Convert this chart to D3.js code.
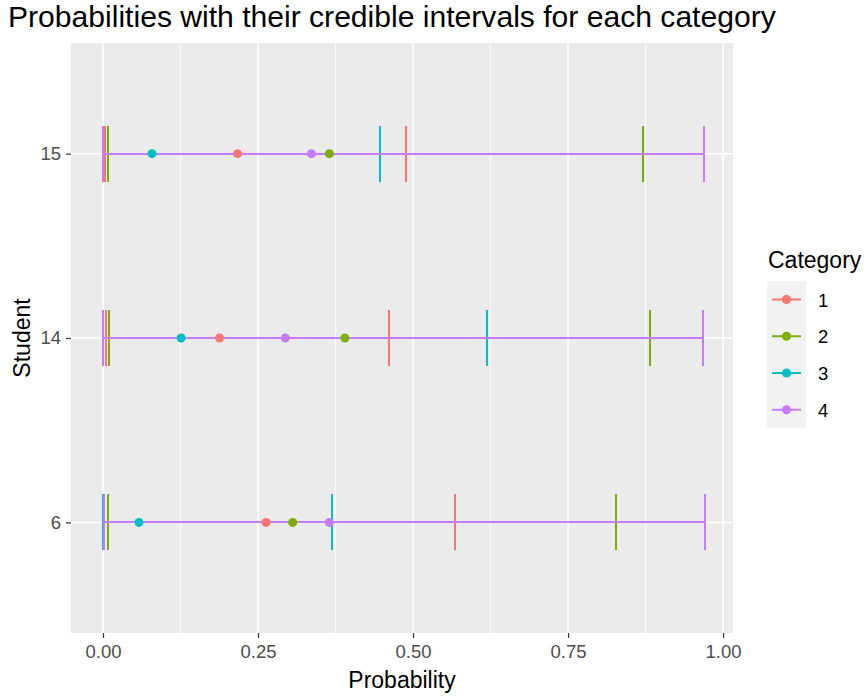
<!DOCTYPE html>
<html>
<head>
<meta charset="utf-8">
<script src="https://cdn.jsdelivr.net/npm/d3@7"></script>
<style>
  body { margin: 0; background: #fff; }
  svg { display: block; font-family: "Liberation Sans", Arial, sans-serif; }
</style>
</head>
<body>
<svg id="chart" width="864" height="697"></svg>
<script>
const students = ["15", "14", "6"];
const categories = ["1", "2", "3", "4"];
const categoryColors = ["#F8766D", "#7CAE00", "#00BFC4", "#C77CFF"];

// one row per student, one value per category
const probability = [
  [0.217, 0.365, 0.079, 0.336],
  [0.188, 0.390, 0.126, 0.294],
  [0.263, 0.306, 0.058, 0.365]
];
const lower = [
  [0.004, 0.008, 0.000, 0.000],
  [0.005, 0.010, 0.000, 0.000],
  [0.000, 0.008, 0.000, 0.002]
];
const upper = [
  [0.488, 0.871, 0.447, 0.969],
  [0.462, 0.882, 0.620, 0.968],
  [0.568, 0.827, 0.369, 0.971]
];
const xTicks = [0, 0.25, 0.5, 0.75, 1];
const xMinor = [0.125, 0.375, 0.625, 0.875];

const rows = [];
students.forEach((student, i) => {
  categories.forEach((category, j) => {
    rows.push({ student, category, p: probability[i][j], lo: lower[i][j], hi: upper[i][j] });
  });
});

const panel = { left: 71, right: 733, top: 43, bottom: 633 };
const svg = d3.select("#chart");

const x = d3.scaleLinear().domain([-0.0516, 1.016]).range([panel.left, panel.right]);
const y = d3.scalePoint().domain(["6", "14", "15"]).range([panel.bottom, panel.top]).padding(0.6);
const color = d3.scaleOrdinal().domain(categories).range(categoryColors);
const capHalf = 28;

svg.append("rect")
  .attr("x", panel.left).attr("y", panel.top)
  .attr("width", panel.right - panel.left).attr("height", panel.bottom - panel.top)
  .attr("fill", "#EBEBEB");

const grid = svg.append("g");
grid.selectAll("line.minor")
  .data(xMinor)
  .join("line")
  .attr("class", "minor")
  .attr("x1", (d) => x(d)).attr("x2", (d) => x(d))
  .attr("y1", panel.top).attr("y2", panel.bottom)
  .attr("stroke", "#fff").attr("stroke-width", 0.8);
grid.selectAll("line.major")
  .data(xTicks)
  .join("line")
  .attr("class", "major")
  .attr("x1", (d) => x(d)).attr("x2", (d) => x(d))
  .attr("y1", panel.top).attr("y2", panel.bottom)
  .attr("stroke", "#fff").attr("stroke-width", 1.5);
grid.selectAll("line.ymajor")
  .data(students)
  .join("line")
  .attr("class", "ymajor")
  .attr("x1", panel.left).attr("x2", panel.right)
  .attr("y1", (d) => y(d)).attr("y2", (d) => y(d))
  .attr("stroke", "#fff").attr("stroke-width", 1.5);

// error bars, drawn category by category so 4 ends up on top
const bars = svg.append("g")
  .attr("shape-rendering", "crispEdges")
  .selectAll("g")
  .data(rows)
  .join("g")
  .attr("stroke", (d) => color(d.category))
  .attr("stroke-width", 2)
  .attr("fill", "none");
bars.append("line")
  .attr("x1", (d) => x(d.lo)).attr("x2", (d) => x(d.hi))
  .attr("y1", (d) => y(d.student)).attr("y2", (d) => y(d.student));
bars.append("line")
  .attr("x1", (d) => x(d.lo)).attr("x2", (d) => x(d.lo))
  .attr("y1", (d) => y(d.student) - capHalf).attr("y2", (d) => y(d.student) + capHalf);
bars.append("line")
  .attr("x1", (d) => x(d.hi)).attr("x2", (d) => x(d.hi))
  .attr("y1", (d) => y(d.student) - capHalf).attr("y2", (d) => y(d.student) + capHalf);

svg.append("g")
  .selectAll("circle")
  .data(rows)
  .join("circle")
  .attr("cx", (d) => x(d.p))
  .attr("cy", (d) => y(d.student))
  .attr("r", 4.5)
  .attr("fill", (d) => color(d.category));

// axes
const xAxis = svg.append("g")
  .attr("transform", `translate(0,${panel.bottom})`)
  .call(d3.axisBottom(x).tickValues(xTicks).tickFormat(d3.format(".2f")).tickSize(5).tickPadding(4));
const yAxis = svg.append("g")
  .attr("transform", `translate(${panel.left},0)`)
  .call(d3.axisLeft(y).tickSize(5).tickPadding(5));
[xAxis, yAxis].forEach((axis) => {
  axis.attr("font-family", null).attr("font-size", null);
  axis.select(".domain").remove();
  axis.selectAll(".tick line").attr("stroke", "#333333").attr("stroke-width", 1.2);
  axis.selectAll(".tick text")
    .attr("fill", "#4D4D4D")
    .attr("font-size", 18.5);
});
xAxis.selectAll(".tick text").attr("dy", "0.85em");

svg.append("text")
  .attr("x", (panel.left + panel.right) / 2)
  .attr("y", 688)
  .attr("text-anchor", "middle")
  .attr("font-size", 23)
  .attr("fill", "#000")
  .text("Probability");

svg.append("text")
  .attr("transform", `translate(30,${(panel.top + panel.bottom) / 2}) rotate(-90)`)
  .attr("text-anchor", "middle")
  .attr("font-size", 23)
  .attr("fill", "#000")
  .text("Student");

svg.append("text")
  .attr("x", 8)
  .attr("y", 27)
  .attr("font-size", 30.1)
  .attr("fill", "#000")
  .text("Probabilities with their credible intervals for each category");

// legend
const legend = svg.append("g").attr("transform", "translate(767,0)");
legend.append("text")
  .attr("x", 1).attr("y", 268)
  .attr("font-size", 23)
  .attr("fill", "#000")
  .text("Category");
legend.append("rect")
  .attr("x", 0).attr("y", 281)
  .attr("width", 39).attr("height", 147)
  .attr("fill", "#F2F2F2");
const keys = legend.selectAll("g.key")
  .data(categories)
  .join("g")
  .attr("class", "key")
  .attr("transform", (d, i) => `translate(0,${299.5 + i * 36.75})`);
keys.append("line")
  .attr("x1", 5).attr("x2", 34)
  .attr("stroke", (d) => color(d)).attr("stroke-width", 2);
keys.append("circle")
  .attr("cx", 19.5).attr("r", 4.5)
  .attr("fill", (d) => color(d));
keys.append("text")
  .attr("x", 51).attr("y", 7)
  .attr("font-size", 18.5)
  .attr("fill", "#000")
  .text((d) => d);
</script>
</body>
</html>
